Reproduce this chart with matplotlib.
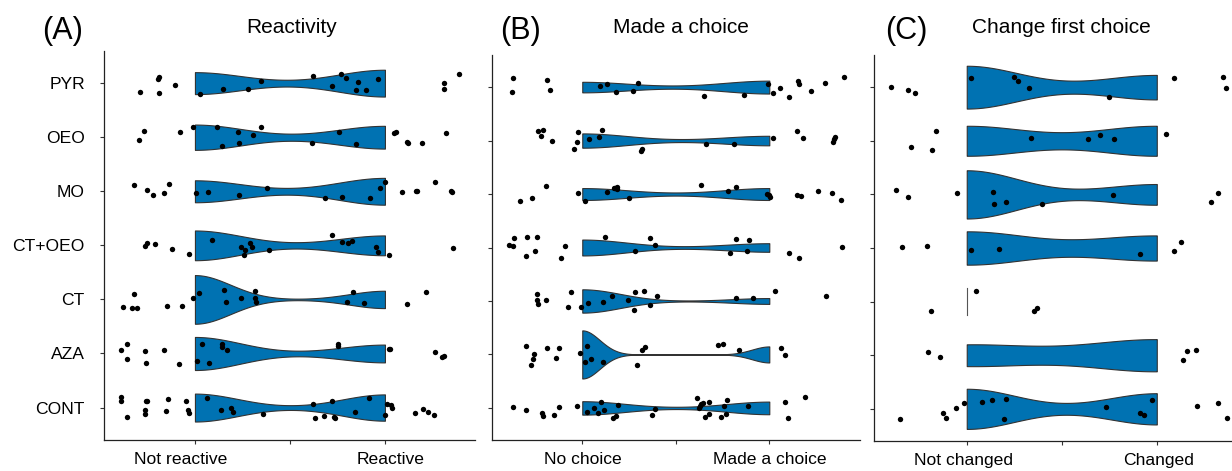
import numpy as np
import matplotlib
matplotlib.use('Agg')
import matplotlib.pyplot as plt
from matplotlib.transforms import ScaledTranslation

plt.rcParams['font.family'] = ['Liberation Sans', 'DejaVu Sans']

groups = ['PYR', 'OEO', 'MO', 'CT+OEO', 'CT', 'AZA', 'CONT']

# jittered points: x position (0 / 1 outcome + jitter) and vertical jitter
reactivity_x = {
    'PYR': [-0.289, -0.196, -0.189, -0.189, -0.107, 0.028, 0.146, 0.279, 0.347, 0.619, 0.723, 0.767,
            0.795, 0.847, 0.856, 0.900, 0.963, 1.309, 1.312, 1.391],
    'OEO': [-0.293, -0.270, -0.081, -0.012, 0.118, 0.140, 0.225, 0.233, 0.305, 0.349, 0.614, 0.756,
            0.849, 1.049, 1.058, 1.116, 1.119, 1.196, 1.321],
    'MO': [-0.323, -0.253, -0.221, -0.165, -0.137, 0.007, 0.068, 0.230, 0.381, 0.684, 0.772, 0.919,
           0.972, 1.002, 1.089, 1.165, 1.170, 1.263, 1.349, 1.354],
    'CT+OEO': [-0.261, -0.251, -0.212, -0.123, -0.030, 0.091, 0.242, 0.261, 0.258, 0.288, 0.298, 0.391,
               0.723, 0.774, 0.807, 0.825, 0.951, 0.963, 1.019, 1.356],
    'CT': [-0.379, -0.332, -0.319, -0.307, -0.149, -0.070, -0.012, 0.019, 0.151, 0.161, 0.242, 0.316,
           0.318, 0.321, 0.798, 0.832, 0.889, 1.116, 1.214],
    'AZA': [-0.391, -0.360, -0.360, -0.263, -0.260, -0.165, -0.086, 0.009, 0.037, 0.074, 0.142, 0.144,
            0.167, 0.751, 0.753, 1.023, 1.026, 1.263, 1.302, 1.309],
    'CONT': [-0.389, -0.391, -0.358, -0.261, -0.261, -0.256, -0.251, -0.151, -0.140, -0.049, -0.037,
             -0.030, 0.061, 0.139, 0.189, 0.198, 0.356, 0.623, 0.632, 0.677, 0.719, 0.732, 0.736,
             0.844, 0.918, 1.000, 1.012, 1.030, 1.035, 1.160, 1.200, 1.226, 1.256],
}
reactivity_dy = {
    'PYR': [0.17, -0.07, -0.11, 0.19, 0.04, 0.20, 0.10, 0.10, -0.04, -0.14, 0.06, -0.17, -0.10, 0.12,
            -0.02, 0.13, -0.07, 0.00, 0.10, -0.16],
    'OEO': [0.06, -0.11, -0.09, -0.18, -0.19, 0.16, -0.09, 0.10, -0.04, -0.19, 0.11, -0.09, 0.13, -0.07,
            -0.09, 0.08, 0.10, 0.10, -0.07],
    'MO': [-0.11, -0.02, 0.06, 0.04, -0.14, 0.03, 0.02, 0.07, -0.06, 0.12, 0.10, 0.12, -0.06, -0.17,
           0.02, -0.01, -0.01, -0.18, -0.01, 0.01],
    'CT+OEO': [0.02, -0.04, -0.03, 0.07, 0.16, -0.10, 0.03, 0.09, 0.18, -0.04, 0.03, 0.09, -0.19, -0.07,
               -0.04, -0.08, 0.03, 0.13, 0.17, 0.04],
    'CT': [0.14, 0.16, -0.10, 0.16, 0.13, 0.13, -0.02, -0.11, -0.18, 0.05, -0.02, -0.15, -0.03, 0.05,
           0.05, -0.13, 0.07, 0.08, -0.13],
    'AZA': [-0.06, -0.18, 0.11, -0.04, 0.17, -0.07, 0.20, 0.13, -0.18, 0.17, -0.17, -0.12, -0.06, -0.18,
            -0.14, -0.09, -0.09, -0.03, 0.06, 0.05],
    'CONT': [-0.19, -0.13, 0.17, 0.04, 0.12, -0.12, -0.13, 0.06, -0.15, -0.13, 0.04, 0.10, -0.18, 0.04,
             0.00, 0.09, 0.12, -0.06, 0.19, 0.16, -0.13, 0.18, 0.19, 0.09, -0.18, 0.14, -0.07, -0.05,
             0.00, 0.10, 0.02, 0.09, 0.13],
}

choice_x = {
    'PYR': [-0.371, -0.374, -0.191, -0.175, 0.094, 0.134, 0.180, 0.271, 0.298, 0.652, 0.865, 0.993,
            1.020, 1.059, 1.107, 1.155, 1.157, 1.225, 1.296, 1.399],
    'OEO': [-0.237, -0.209, -0.223, -0.164, -0.021, -0.030, -0.043, 0.036, 0.087, 0.105, 0.321, 0.316,
            0.660, 0.813, 1.020, 1.146, 1.182, 1.353, 1.346, 1.342],
    'MO': [-0.333, -0.267, -0.193, -0.025, 0.012, 0.134, 0.169, 0.175, 0.184, 0.187, 0.250, 0.635,
           0.781, 0.824, 0.986, 0.996, 1.005, 1.148, 1.169, 1.258, 1.335, 1.385],
    'CT+OEO': [-0.390, -0.369, -0.365, -0.298, -0.299, -0.251, -0.244, -0.114, -0.094, 0.121, 0.283,
               0.364, 0.387, 0.791, 0.822, 0.882, 0.889, 1.105, 1.160, 1.390],
    'CT': [-0.244, -0.244, -0.239, -0.194, -0.075, -0.059, -0.009, 0.030, 0.112, 0.160, 0.244, 0.275,
           0.280, 0.332, 0.364, 0.398, 0.822, 0.913, 1.032, 1.301],
    'AZA': [-0.303, -0.260, -0.264, -0.276, -0.189, -0.125, -0.141, -0.012, 0.023, 0.016, 0.048, 0.109,
            0.294, 0.321, 0.337, 0.724, 0.752, 0.840, 1.062, 1.084],
    'CONT': [-0.371, -0.299, -0.216, -0.210, -0.152, -0.123, -0.029, 0.023, 0.064, 0.084, 0.102, 0.118,
             0.191, 0.166, 0.182, 0.374, 0.390, 0.615, 0.622, 0.627, 0.636, 0.645, 0.658, 0.676,
             0.679, 0.740, 0.759, 0.768, 0.772, 0.888, 1.086, 1.102, 1.189],
}
choice_dy = {
    'PYR': [-0.17, 0.10, -0.14, 0.06, -0.02, -0.06, 0.10, 0.08, -0.07, 0.17, 0.14, -0.06, 0.11, 0.02,
            0.19, -0.11, -0.06, 0.07, -0.08, -0.19],
    'OEO': [-0.18, -0.20, -0.09, 0.01, -0.16, 0.02, 0.16, -0.02, -0.07, -0.19, 0.16, 0.19, 0.07, 0.07,
            -0.04, -0.18, -0.04, -0.07, -0.02, 0.02],
    'MO': [0.13, 0.07, -0.15, -0.02, 0.13, -0.04, -0.11, -0.12, -0.14, -0.09, 0.07, -0.17, -0.05, -0.14,
           0.00, 0.02, 0.05, 0.02, 0.03, -0.06, -0.02, 0.12],
    'CT+OEO': [-0.04, -0.03, -0.17, -0.20, 0.16, 0.06, -0.19, 0.20, -0.03, -0.20, 0.07, -0.17, -0.04,
               0.10, -0.15, 0.06, -0.14, 0.11, 0.19, -0.01],
    'CT': [-0.13, -0.02, 0.06, -0.02, 0.11, -0.16, 0.11, 0.04, 0.01, -0.09, -0.02, 0.17, -0.16, -0.19,
           0.07, -0.10, -0.06, -0.06, -0.19, -0.09],
    'AZA': [-0.15, -0.01, 0.08, 0.20, -0.12, -0.12, 0.07, -0.02, -0.15, 0.15, 0.08, 0.14, 0.19, -0.09,
            -0.13, -0.17, -0.20, -0.08, -0.12, 0.01],
    'CONT': [-0.02, 0.04, 0.09, 0.15, 0.14, -0.01, -0.04, 0.07, 0.01, 0.09, -0.12, 0.04, -0.06, 0.18,
             0.16, 0.13, 0.02, -0.19, 0.01, -0.04, -0.07, -0.09, 0.17, 0.11, -0.12, 0.17, -0.03, 0.12,
             -0.14, -0.04, -0.11, 0.19, -0.20],
}

change_x = {
    'PYR': [-0.396, -0.311, -0.274, 0.021, 0.251, 0.270, 0.326, 0.747, 1.091, 1.347, 1.363],
    'OEO': [-0.160, -0.291, -0.184, 0.337, 0.640, 0.702, 0.777, 1.047],
    'MO': [-0.372, -0.307, -0.049, 0.140, 0.146, 0.204, 0.395, 0.772, 1.286, 1.321],
    'CT+OEO': [-0.339, -0.211, 0.023, 0.168, 0.914, 1.089, 1.130],
    'CT': [-0.188, 0.051, 0.354, 0.370],
    'AZA': [-0.202, -0.142, 1.137, 1.161, 1.204],
    'CONT': [-0.349, -0.123, -0.111, -0.056, -0.014, 0.081, 0.135, 0.195, 0.207, 0.732, 0.914, 0.935,
             0.977, 1.211, 1.323, 1.370],
}
change_dy = {
    'PYR': [-0.01, 0.06, 0.10, -0.18, -0.19, -0.11, 0.01, 0.19, -0.17, -0.19, 0.02],
    'OEO': [-0.19, 0.12, 0.17, -0.06, -0.04, -0.10, -0.03, -0.13],
    'MO': [-0.09, 0.05, -0.03, -0.04, 0.18, 0.15, 0.17, 0.02, 0.14, -0.03],
    'CT+OEO': [-0.01, -0.04, 0.04, 0.02, 0.12, 0.05, -0.12],
    'CT': [0.18, -0.19, 0.18, 0.11],
    'AZA': [-0.06, 0.04, 0.08, -0.08, -0.09],
    'CONT': [0.19, 0.07, 0.17, -0.02, -0.11, -0.12, -0.17, 0.19, -0.19, -0.04, 0.08, 0.12, -0.16, -0.05,
             -0.10, 0.17],
}

titles = ['Reactivity', 'Made a choice', 'Change first choice']
letters = ['(A)', '(B)', '(C)']
tick_names = [['Not reactive', '', 'Reactive'],
              ['No choice', '', 'Made a choice'],
              ['Not changed', '', 'Changed']]
panel_x = [reactivity_x, choice_x, change_x]
panel_dy = [reactivity_dy, choice_dy, change_dy]

W, H = 1232, 471
fig = plt.figure(figsize=(W / 100, H / 100), dpi=100)

# panel boxes in pixels: left, right, top, bottom
boxes = [(104.3, 475, 50.7, 440), (492.3, 860, 55, 440), (874, 1248, 55, 441)]
xlims = [(-0.477, 1.474), (-0.481, 1.485), (-0.488, 1.48)]
title_x = [292, 681, 1061]
letter_x = [42, 500, 885]
label_shift = [(-14, 6), (1, 1), (-3, 2)]

blue = '#0072B2'
edge = '#333333'


def bw_nrd0(v):
    hi = np.std(v, ddof=1) if len(v) > 1 else 0.0
    iqr = np.percentile(v, 75) - np.percentile(v, 25)
    lo = min(hi, iqr / 1.34)
    if not lo:
        lo = hi or abs(v[0]) or 1.0
    return 0.9 * lo * len(v) ** -0.2


def density(v):
    bw = bw_nrd0(v)
    grid = np.linspace(v.min(), v.max(), 512)
    z = (grid[:, None] - v[None, :]) / bw
    d = np.exp(-0.5 * z ** 2).sum(axis=1) / (len(v) * bw * np.sqrt(2 * np.pi))
    return grid, d


for p in range(3):
    l, r, t, b = boxes[p]
    ax = fig.add_axes([l / W, 1 - b / H, (r - l) / W, (b - t) / H])
    xs, dys = panel_x[p], panel_dy[p]

    dens = {}
    for g in groups:
        vals = (np.array(xs[g]) > 0.5).astype(float)
        dens[g] = density(vals)
    dmax = max(d.max() for _, d in dens.values())

    for i, g in enumerate(groups):
        grid, d = dens[g]
        hw = d / dmax * 0.45
        if grid[0] == grid[-1]:
            ax.plot([grid[0], grid[0]], [i - hw[0], i + hw[0]], color='#555555', lw=0.8, zorder=2)
        else:
            ax.fill_between(grid, i - hw, i + hw, facecolor=blue, edgecolor=edge, lw=0.8, zorder=2)
        ax.scatter(xs[g], i + np.array(dys[g]), s=15, c='black', linewidths=0, zorder=3)

    ax.set_xlim(*xlims[p])
    ax.set_ylim(6.6, -0.6)
    ax.set_xticks([0, 0.5, 1])
    ax.set_xticklabels(tick_names[p])
    ax.set_yticks(range(len(groups)))
    ax.set_yticklabels(groups if p == 0 else [])
    for s in ['top', 'right']:
        ax.spines[s].set_visible(False)
    for s in ['left', 'bottom']:
        ax.spines[s].set_linewidth(0.9)
        ax.spines[s].set_color('#222222')
    ax.tick_params(axis='both', direction='out', length=3, width=0.8, color='#333333',
                   labelsize=12.6, labelcolor='black')
    ax.tick_params(axis='x', pad=6)
    ax.tick_params(axis='y', pad=11)
    labs = ax.get_xticklabels()
    for k, j in enumerate([0, 2]):
        labs[j].set_transform(labs[j].get_transform() +
                              ScaledTranslation(label_shift[p][k] / 100, 0, fig.dpi_scale_trans))

    fig.text(title_x[p] / W, 1 - 33 / H, titles[p], fontsize=15, ha='center', va='baseline')
    fig.text(letter_x[p] / W, 1 - 39 / H, letters[p], fontsize=22, ha='left', va='baseline')

fig.savefig('out.png', dpi=100)
